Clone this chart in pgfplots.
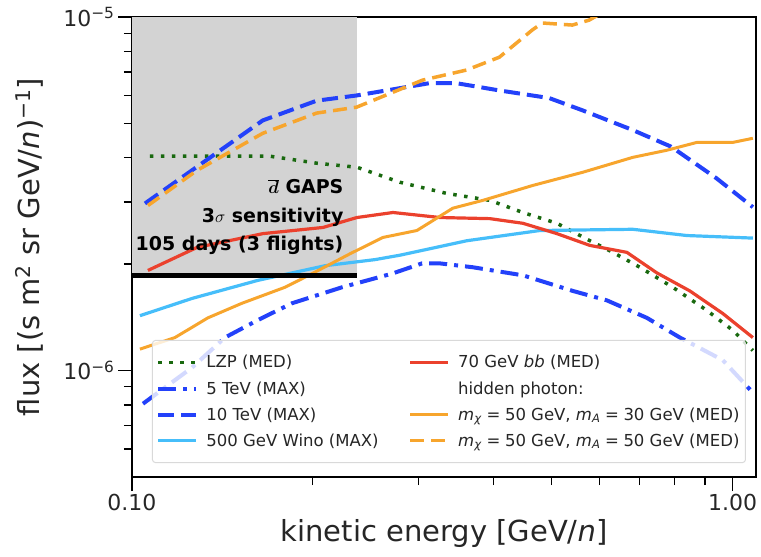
\documentclass[border=0pt]{standalone}
\usepackage{fontspec}
\setmainfont{DejaVu Sans}[ItalicFont={DejaVu Sans Oblique},BoldFont={DejaVu Sans Bold},BoldItalicFont={DejaVu Sans Bold Oblique}]
\usepackage{pgfplots}
\pgfplotsset{compat=1.18}

\definecolor{cgreen}{RGB}{25,105,15}
\definecolor{cblue}{RGB}{35,65,250}
\definecolor{clight}{RGB}{70,190,250}
\definecolor{cred}{RGB}{235,65,45}
\definecolor{corange}{RGB}{247,165,45}
\definecolor{cgray}{RGB}{211,211,211}

\newcommand{\eq}{\hspace{0.28em}=\hspace{0.28em}}

\begin{document}
\begin{tikzpicture}
\begin{axis}[
  xmode=log, ymode=log,
  scale only axis, width=624pt, height=460pt,
  xmin=0.1, xmax=1.094, ymin=5e-7, ymax=1e-5,
  axis line style={line width=1.6pt},
  tick align=outside, tick pos=left,
  major tick length=14pt, minor tick length=8pt,
  every tick/.style={black, line width=1.4pt},
  xtick={0.1,1}, xticklabels={0.10,1.00},
  ytick={1e-6,1e-5}, yticklabels={10\textsuperscript{−6},10\textsuperscript{−5}},
  minor xtick={0.2,0.3,0.4,0.5,0.6,0.7,0.8,0.9},
  minor ytick={6e-7,7e-7,8e-7,9e-7,2e-6,3e-6,4e-6,5e-6,6e-6,7e-6,8e-6,9e-6},
  ticklabel style={font=\fontsize{22}{26}\selectfont, text=black!85},
  xlabel={kinetic energy [GeV/\textit{n}]},
  ylabel={flux [(s m\textsuperscript{2} sr GeV/\textit{n})\textsuperscript{−1}]},
  label style={font=\fontsize{29}{34}\selectfont, text=black!85},
  xlabel style={at={(axis description cs:0.5,-0.141)}, anchor=base},
  ylabel style={at={(axis description cs:-0.165,0.5)}, anchor=center},
  legend image code/.code={\draw[#1] (0pt,0pt) -- (38pt,0pt);},
  legend columns=4, transpose legend,
  legend cell align=left,
  legend style={at={(rel axis cs:0.032,0.298)}, anchor=north west,
    fill=white, fill opacity=0.8, text opacity=1, draw=black!15, line width=1pt,
    rounded corners=3pt, font=\fontsize{16.5}{20}\selectfont, text=black!85,
    inner xsep=4pt, inner ysep=13pt, row sep=8pt,
    /tikz/every odd column/.append style={column sep=6pt},
    /tikz/every even column/.append style={column sep=28pt}},
]
\coordinate (sw) at (rel axis cs:0,0);
\coordinate (ne) at (rel axis cs:1,1);

% GAPS sensitivity region
\addplot[fill=cgray, draw=none, forget plot] coordinates {(0.1,1.858e-6) (0.2369,1.858e-6) (0.2369,1e-5) (0.1,1e-5)} -- cycle;

\addplot[cgreen, line width=3.5pt, dash pattern=on 3.5pt off 7.5pt] coordinates {
(0.1071,4.04e-6) (0.1697,4.04e-6) (0.2032,3.86e-6) (0.2369,3.76e-6) (0.2793,3.41e-6)
(0.3344,3.17e-6) (0.3945,3.03e-6) (0.4476,2.80e-6) (0.5099,2.61e-6) (0.5786,2.33e-6)
(0.6322,2.16e-6) (0.7010,1.96e-6) (0.7955,1.72e-6) (0.9062,1.48e-6) (1.001,1.30e-6) (1.081,1.14e-6)};
\addlegendentry{LZP (MED)}

\addplot[cblue, line width=4pt, dash pattern=on 18pt off 7pt on 4pt off 7pt] coordinates {
(0.1043,8.06e-7) (0.1259,1.02e-6) (0.1428,1.24e-6) (0.1621,1.39e-6) (0.1846,1.55e-6)
(0.2236,1.72e-6) (0.2709,1.88e-6) (0.3040,2.01e-6) (0.3257,2.01e-6) (0.3696,1.96e-6)
(0.4476,1.86e-6) (0.5421,1.68e-6) (0.6176,1.58e-6) (0.7199,1.41e-6) (0.8172,1.24e-6)
(0.9635,1.07e-6) (1.081,8.66e-7)};
\addlegendentry{5 TeV (MAX)}

\addplot[cblue, line width=4pt, dash pattern=on 16pt off 7pt] coordinates {
(0.1051,2.97e-6) (0.1348,4.0e-6) (0.1651,5.1e-6) (0.2030,5.8e-6) (0.2366,6.0e-6)
(0.3128,6.5e-6) (0.3469,6.5e-6) (0.409,6.2e-6) (0.495,5.9e-6) (0.562,5.45e-6)
(0.68,4.8e-6) (0.79,4.3e-6) (0.94,3.5e-6) (1.081,2.9e-6)};
\addlegendentry{10 TeV (MAX)}

\addplot[clight, line width=3.2pt] coordinates {
(0.1031,1.43e-6) (0.1259,1.60e-6) (0.1621,1.80e-6) (0.2096,1.98e-6) (0.2538,2.06e-6)
(0.2793,2.12e-6) (0.3612,2.33e-6) (0.4777,2.49e-6) (0.6823,2.51e-6) (0.839,2.41e-6) (1.081,2.37e-6)};
\addlegendentry{500 GeV Wino (MAX)}

\addplot[cred, line width=3.2pt] coordinates {
(0.1063,1.92e-6) (0.1283,2.23e-6) (0.1652,2.44e-6) (0.2080,2.54e-6) (0.2369,2.71e-6)
(0.2720,2.80e-6) (0.3257,2.71e-6) (0.3945,2.69e-6) (0.4476,2.61e-6) (0.5099,2.44e-6)
(0.5786,2.26e-6) (0.6668,2.16e-6) (0.748,1.89e-6) (0.849,1.68e-6) (0.9635,1.45e-6) (1.081,1.24e-6)};
\addlegendentry{70 GeV \textit{bb} (MED)}

\addlegendimage{empty legend}
\addlegendentry{hidden photon:}

\addplot[corange, line width=3pt] coordinates {
(0.1031,1.15e-6) (0.1179,1.24e-6) (0.1338,1.41e-6) (0.1524,1.55e-6) (0.1797,1.72e-6)
(0.1994,1.88e-6) (0.2307,2.14e-6) (0.2617,2.38e-6) (0.2981,2.49e-6) (0.3422,2.88e-6)
(0.3839,3.03e-6) (0.4651,3.34e-6) (0.5634,3.64e-6) (0.6823,4.01e-6) (0.7775,4.20e-6)
(0.8722,4.42e-6) (1.001,4.42e-6) (1.081,4.54e-6)};
\addlegendentry{\textit{m}\textsubscript{\textit{χ}}\eq 50 GeV, \textit{m}\textsubscript{\textit{A}}\eq 30 GeV (MED)}

\addplot[corange, line width=3.5pt, dash pattern=on 14pt off 7pt] coordinates {
(0.1063,2.93e-6) (0.1282,3.68e-6) (0.1651,4.69e-6) (0.2030,5.35e-6) (0.2366,5.56e-6)
(0.3046,6.63e-6) (0.3605,7.08e-6) (0.409,7.70e-6) (0.464,9.19e-6) (0.482,9.62e-6)
(0.541,9.49e-6) (0.577,9.8e-6) (0.62,1.05e-5)};
\addlegendentry{\textit{m}\textsubscript{\textit{χ}}\eq 50 GeV, \textit{m}\textsubscript{\textit{A}}\eq 50 GeV (MED)}

\addplot[black, line width=5pt, forget plot] coordinates {(0.1,1.858e-6) (0.2369,1.858e-6)};

\node[anchor=base east, font=\fontsize{19}{23}\selectfont\bfseries\boldmath] at (axis cs:0.228,3.17e-6) {$\overline{d}$ GAPS};
\node[anchor=base east, font=\fontsize{19}{23}\selectfont\bfseries] at (axis cs:0.228,2.63e-6) {3$\sigma$ sensitivity};
\node[anchor=base east, font=\fontsize{19}{23}\selectfont\bfseries] at (axis cs:0.228,2.19e-6) {105 days (3 flights)};
\end{axis}
\pgfresetboundingbox
\path ([shift={(-132pt,-80pt)}]sw) rectangle ([shift={(5pt,17pt)}]ne);
\end{tikzpicture}
\end{document}
